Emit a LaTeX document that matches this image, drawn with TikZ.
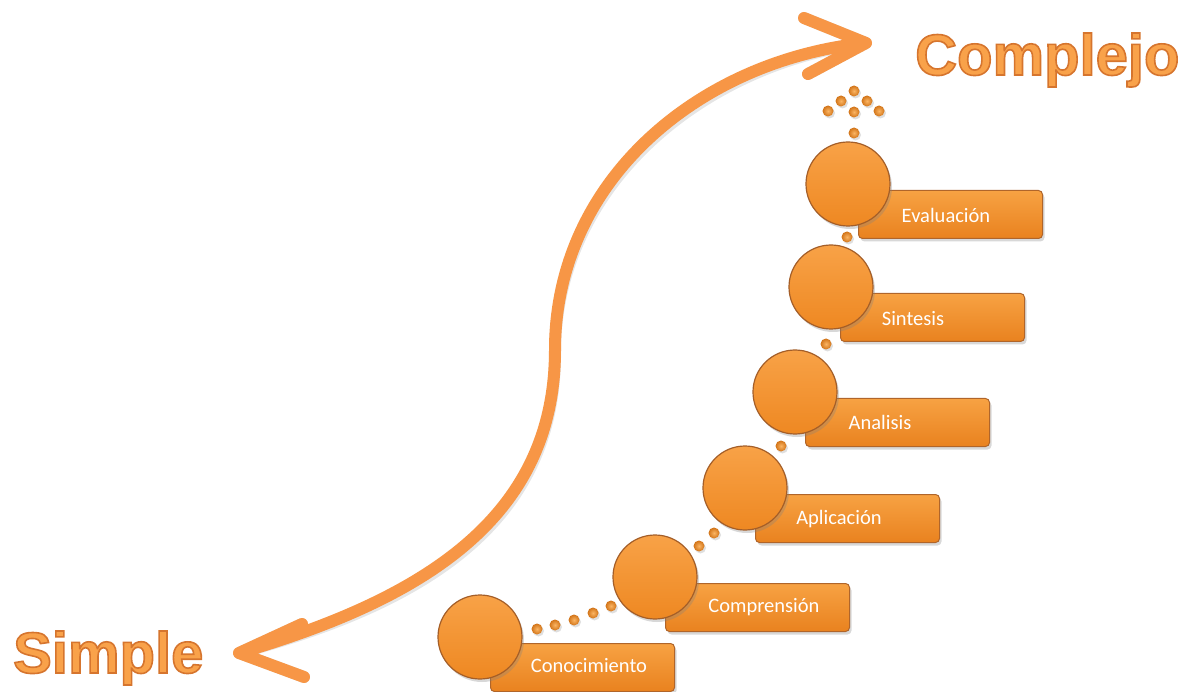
\documentclass[tikz,border=0pt]{standalone}
\usepackage{fontspec}
\setmainfont{Carlito}
\newfontfamily\titlefont{Liberation Sans}
\usetikzlibrary{shadows}
\definecolor{arrowcol}{HTML}{F79646}
\definecolor{circtop}{HTML}{F8A247}
\definecolor{circbot}{HTML}{EE8822}
\definecolor{circrim}{HTML}{A45E28}
\definecolor{boxtop}{HTML}{F7A243}
\definecolor{boxbot}{HTML}{E9821F}
\definecolor{boxrim}{HTML}{B0652A}
\definecolor{beadin}{HTML}{FBB563}
\definecolor{beadout}{HTML}{D27418}
\definecolor{titlecol}{HTML}{F9A24A}
\newcommand\bigArrowPath{(lowtip) .. controls (420,600) and (555,520) .. (mid) .. controls (555,180) and (700,60) .. (uptip)
  (lowarmA) -- (lowtip) -- (lowarmB)
  (uparmA) -- (uptip) -- (uparmB)}
\newcommand\outlined[1]{\special{pdf:literal 2 Tr 1.6 w 0.84 0.46 0.18 RG}#1\special{pdf:literal 0 Tr 0.4 w}}
\begin{document}
\begin{tikzpicture}[x=1pt,y=-1pt,
  arrowline/.style={draw=arrowcol, line width=12pt, line cap=round, line join=round},
  arrowshade/.style={draw=black, opacity=0.10, line width=12pt, line cap=round, line join=round},
  stepcircle/.style={circle, minimum size=84pt, inner sep=0pt, draw=circrim, line width=1.2pt,
    top color=circtop, bottom color=circbot,
    drop shadow={shadow xshift=2pt, shadow yshift=-3pt, opacity=0.3}},
  stepbox/.style={rectangle, rounded corners=4pt, minimum width=184pt, minimum height=48pt,
    anchor=north west, draw=boxrim, line width=1pt, top color=boxtop, bottom color=boxbot,
    drop shadow={shadow xshift=2pt, shadow yshift=-3pt, opacity=0.3}},
  steplabel/.style={text=white, inner sep=0pt, font=\fontsize{20.5}{22}\selectfont},
  bead/.style={circle, minimum size=11pt, inner sep=0pt, inner color=beadin, outer color=beadout,
    drop shadow={shadow xshift=1.5pt, shadow yshift=-2pt, opacity=0.25}},
  titletext/.style={anchor=base west, inner sep=0pt, text=titlecol,
    font=\titlefont\bfseries\fontsize{58}{60}\selectfont}
]
\useasboundingbox (0,0) rectangle (1194,692);
\fill[white] (0,0) rectangle (1194,692);

% big double arrow
\coordinate (lowtip) at (239,653);
\coordinate (lowarmA) at (302,624);
\coordinate (lowarmB) at (304,677);
\coordinate (mid) at (555,350);
\coordinate (uptip) at (866,43);
\coordinate (uparmA) at (804,18);
\coordinate (uparmB) at (808,74);
\begin{scope}[shift={(2,4)}]
  \path[arrowshade] \bigArrowPath;
\end{scope}
\path[arrowline] \bigArrowPath;

% titles
\node[titletext] (complejo) at (915,75) {\outlined{Complejo}};
\node[titletext] (simple) at (13,673) {\outlined{Simple}};

% beads
\foreach \n/\p in {a1/{(537,629)}, a2/{(555,625)}, a3/{(574,620)}, a4/{(593,613)}, a5/{(611,606)},
                  b1/{(699,546)}, b2/{(714,533)}, c1/{(781,446)}, d1/{(826,344)}, e1/{(847,237)},
                  f1/{(854,133)}, f2/{(828,111)}, f3/{(854,112)}, f4/{(879,111)},
                  f5/{(841,101)}, f6/{(867,101)}, f7/{(854,91)}}
  \node[bead] (bead\n) at \p {};

% steps: boxes, labels, circles
\node[stepbox] (box1) at (490,643) {};
\node[steplabel] (lab1) at (589,666) {Conocimiento};
\node[stepcircle] (circ1) at (480,637) {};

\node[stepbox] (box2) at (665,583) {};
\node[steplabel] (lab2) at (764,607) {Comprensión};
\node[stepcircle] (circ2) at (655,577) {};

\node[stepbox] (box3) at (755,494) {};
\node[steplabel] (lab3) at (839,519) {Aplicación};
\node[stepcircle] (circ3) at (745,488) {};

\node[stepbox] (box4) at (805,398) {};
\node[steplabel] (lab4) at (880,422) {Analisis};
\node[stepcircle] (circ4) at (795,392) {};

\node[stepbox] (box5) at (840,293) {};
\node[steplabel] (lab5) at (913,319) {Sintesis};
\node[stepcircle] (circ5) at (831,287) {};

\node[stepbox] (box6) at (858,190) {};
\node[steplabel] (lab6) at (946,215) {Evaluación};
\node[stepcircle] (circ6) at (848,184) {};
\end{tikzpicture}
\end{document}
